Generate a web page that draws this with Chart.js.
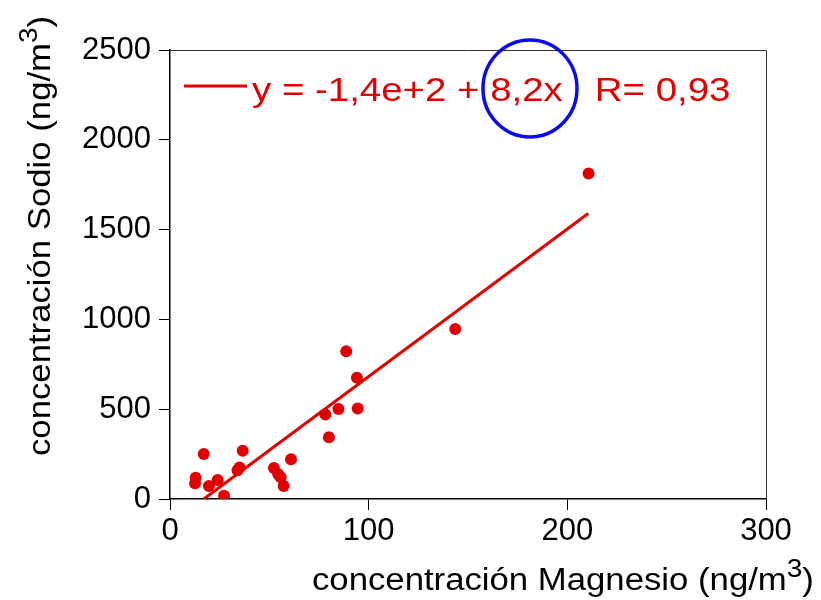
<!DOCTYPE html>
<html>
<head>
<meta charset="utf-8">
<script src="https://cdn.jsdelivr.net/npm/chart.js@4"></script>
<style>
  html, body { margin: 0; background: #fff; }
  #wrap { width: 821px; height: 600px; }
</style>
</head>
<body>
<div id="wrap"><canvas id="chart" width="821" height="600"></canvas></div>
<script>
// magnesio (x) vs sodio (y), ng/m3
const mgX = [12.9, 12.6, 17.0, 19.6, 24.0, 27.2, 34.0, 35.0, 36.6, 52.3, 54.5, 55.7, 57.2, 60.9, 78.2, 80.0, 84.8, 88.7, 94.1, 94.5, 143.6, 210.7];
const naY = [119, 87, 251, 72, 106, 18, 160, 175, 269, 173, 138, 121, 72, 221, 470, 344, 501, 822, 675, 504, 947, 1813];

// fitted line, ends
const fitX = [17, 210.5];
const fitY = [0, 1590];
const fitLabel = "y = -1,4e+2 + 8,2x   R= 0,93";

const xTicks = [0, 100, 200, 300];
const yTicks = [0, 500, 1000, 1500, 2000, 2500];

const xTitle = "concentración Magnesio (ng/m";
const yTitle = "concentración Sodio (ng/m";

const RED  = "#e00000";
const BLUE = "rgb(10,10,235)";
const FONT = '"Liberation Sans", Arial, sans-serif';

// text drawn a bit wider than the font, like the original
function drawRun(ctx, x, y, rot, stretch, parts) {
  ctx.save();
  ctx.translate(x, y);
  ctx.rotate(rot);
  ctx.scale(stretch, 1);
  ctx.textBaseline = "alphabetic";
  ctx.textAlign = "left";
  let cx = 0;
  for (const p of parts) {
    ctx.font = `${p.size}px ${FONT}`;
    ctx.fillStyle = p.color || "#000";
    ctx.fillText(p.text, cx, p.dy || 0);
    cx += ctx.measureText(p.text).width;
  }
  ctx.restore();
}

const decor = {
  id: "decor",
  afterDraw(chart) {
    const ctx = chart.ctx;
    const a = chart.chartArea;
    const sx = chart.scales.x, sy = chart.scales.y;

    // top / right frame
    ctx.save();
    ctx.strokeStyle = "#333";
    ctx.lineWidth = 1;
    ctx.beginPath();
    ctx.moveTo(a.left, a.top + 0.5);
    ctx.lineTo(a.right + 0.5, a.top + 0.5);
    ctx.lineTo(a.right + 0.5, a.bottom);
    ctx.stroke();
    ctx.restore();

    // axis titles
    drawRun(ctx, 312, 590, 0, 1.12, [
      { text: xTitle, size: 31 },
      { text: "3", size: 25, dy: -13 },
      { text: ")", size: 31 },
    ]);
    drawRun(ctx, 50, 456, -Math.PI / 2, 1.12, [
      { text: yTitle, size: 31 },
      { text: "3", size: 25, dy: -13 },
      { text: ")", size: 31 },
    ]);

    // legend inside plot
    ctx.save();
    ctx.strokeStyle = RED;
    ctx.lineWidth = 3;
    ctx.beginPath();
    ctx.moveTo(184, 86);
    ctx.lineTo(247, 86);
    ctx.stroke();
    ctx.restore();
    drawRun(ctx, 252, 101, 0, 1.13, [
      { text: chart.data.datasets[1].label, size: 34, color: RED },
    ]);

    // blue circle around the slope
    const cx = sx.getPixelForValue(181.2);
    const cy = sy.getPixelForValue(2286);
    ctx.save();
    ctx.strokeStyle = BLUE;
    ctx.lineWidth = 3.5;
    ctx.beginPath();
    ctx.ellipse(cx, cy, 47, 48.5, 0, 0, Math.PI * 2);
    ctx.stroke();
    ctx.restore();
  },
};

const axisCommon = {
  type: "linear",
  border: { display: true, color: "#000", width: 1.5 },
  grid: {
    drawOnChartArea: false,
    drawTicks: true,
    tickLength: 11,
    color: "#000",
    lineWidth: 1,
  },
};

new Chart(document.getElementById("chart"), {
  type: "scatter",
  data: {
    datasets: [
      {
        label: "datos",
        data: mgX.map((x, i) => ({ x, y: naY[i] })),
        backgroundColor: RED,
        borderWidth: 0,
        pointRadius: 6,
      },
      {
        label: fitLabel,
        type: "line",
        data: fitX.map((x, i) => ({ x, y: fitY[i] })),
        borderColor: RED,
        borderWidth: 3,
        pointRadius: 0,
        fill: false,
        tension: 0,
      },
    ],
  },
  options: {
    responsive: false,
    animation: false,
    layout: { padding: { top: 50, right: 55, left: 0, bottom: 0 } },
    plugins: { legend: { display: false }, tooltip: { enabled: false } },
    scales: {
      x: {
        ...axisCommon,
        min: 0, max: 300,
        afterBuildTicks: s => { s.ticks = xTicks.map(v => ({ value: v })); },
        afterFit: s => { s.height = 101; },
        ticks: { color: "#000", font: { family: FONT, size: 31 }, padding: 3, maxRotation: 0, callback: v => String(v) },
      },
      y: {
        ...axisCommon,
        min: 0, max: 2500,
        afterBuildTicks: s => { s.ticks = yTicks.map(v => ({ value: v })); },
        afterFit: s => { s.width = 170; },
        ticks: { color: "#000", font: { family: FONT, size: 31 }, padding: 8, callback: v => String(v) },
      },
    },
  },
  plugins: [decor],
});
</script>
</body>
</html>
